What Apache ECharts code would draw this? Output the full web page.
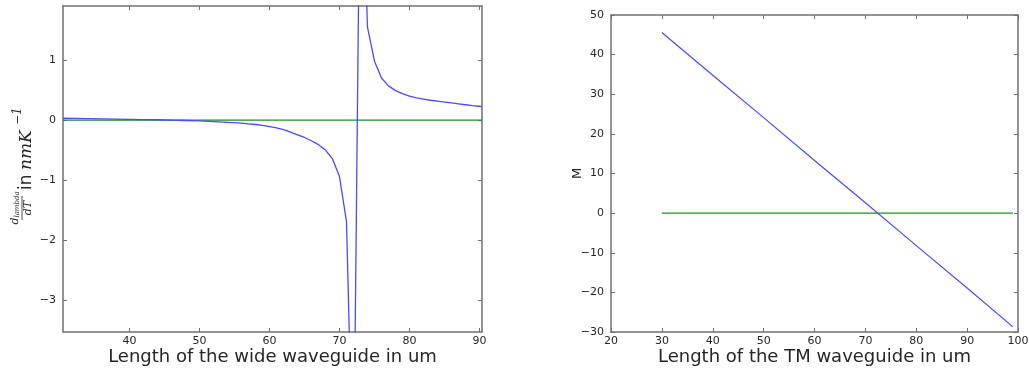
<!DOCTYPE html>
<html>
<head>
<meta charset="utf-8">
<script src="https://cdn.jsdelivr.net/npm/echarts@6/dist/echarts.min.js"></script>
<style>
html,body{margin:0;padding:0;background:#fff;}
#chart{width:1029px;height:371px;}
</style>
</head>
<body>
<div id="chart"></div>
<script>
// ---- data ----
const leftX = [30.5,32,34,36,38,40,42,44,46,48,50,52,54,56,57,58,59,60,61,62,63,64,65,66,67,68,69,70,71,72,73,74,75,76,77,78,79,80,81,82,83,84,85,86,87,88,89,90,90.36];
const leftY = [0.03,0.028,0.025,0.021,0.017,0.013,0.009,0.005,0.0,-0.007,-0.015,-0.025,-0.037,-0.052,-0.062,-0.074,-0.09,-0.108,-0.13,-0.16,-0.2,-0.245,-0.29,-0.345,-0.41,-0.5,-0.645,-0.94,-1.69,-6.3,5.2,1.55,0.98,0.7,0.57,0.49,0.44,0.40,0.37,0.35,0.33,0.315,0.30,0.285,0.27,0.255,0.24,0.23,0.225];
const leftZeroX = [30.5, 90.36];
const leftZeroY = [0, 0];
const leftXTicks = [40,50,60,70,80,90];
const leftYTicks = [-3,-2,-1,0,1];

const rightX = [30,40,50,60,70,80,90,99];
const rightY = [45.6,34.8,24.1,13.3,2.6,-8.2,-18.9,-28.7];
const rightZeroX = [30, 99];
const rightZeroY = [0, 0];

const leftXLabel = 'Length of the wide waveguide in um';
const rightXLabel = 'Length of the TM waveguide in um';
const rightYLabel = 'M';

// ---- helpers ----
const pairs = (xs, ys) => xs.map((x, i) => [x, ys[i]]);
const fmt = v => String(v).replace('-', '\u2212');
const FONT = 'DejaVu Sans';
const AX = '#707070';
const TXT = '#262626';

function baseAxis(extra) {
  return Object.assign({
    type: 'value',
    nameMoveOverlap: false,
    axisLine: { show: true, onZero: false, lineStyle: { color: AX, width: 1.5 } },
    axisTick: { show: true, inside: true, length: 4, lineStyle: { color: AX, width: 1 } },
    axisLabel: { show: true, color: TXT, fontFamily: FONT, fontSize: 11, formatter: fmt },
    splitLine: { show: false }
  }, extra);
}
function mirror(axis, pos) {
  const a = JSON.parse(JSON.stringify(axis));
  a.position = pos;
  a.axisLabel = { show: false };
  a.name = '';
  return a;
}

const lx = baseAxis({ gridIndex: 0, min: 30.5, max: 90.36, position: 'bottom',
  axisTick: { show: true, inside: true, length: 4, lineStyle: { color: AX }, customValues: leftXTicks },
  name: leftXLabel, nameLocation: 'middle', nameGap: 16,
  nameTextStyle: { fontFamily: FONT, fontSize: 18, color: TXT } });
lx.axisLabel.customValues = leftXTicks; lx.axisLabel.margin = 4;
const ly = baseAxis({ gridIndex: 0, min: -3.53, max: 1.9, position: 'left',
  axisTick: { show: true, inside: true, length: 4, lineStyle: { color: AX }, customValues: leftYTicks } });
ly.axisLabel.customValues = leftYTicks; ly.axisLabel.margin = 7;

const rx = baseAxis({ gridIndex: 1, min: 20, max: 100, interval: 10, position: 'bottom',
  name: rightXLabel, nameLocation: 'middle', nameGap: 16,
  nameTextStyle: { fontFamily: FONT, fontSize: 18, color: TXT } });
rx.axisLabel.margin = 4;
const ry = baseAxis({ gridIndex: 1, min: -30, max: 50, interval: 10, position: 'left',
  name: rightYLabel, nameLocation: 'middle', nameGap: 27,
  nameTextStyle: { fontFamily: FONT, fontSize: 13, color: TXT } });
ry.axisLabel.margin = 7;

const lx2 = mirror(lx, 'top');
const ly2 = mirror(ly, 'right');
const rx2 = mirror(rx, 'top');
const ry2 = mirror(ry, 'right');

const chart = echarts.init(document.getElementById('chart'), null, { renderer: 'canvas' });
chart.setOption({
  animation: false,
  backgroundColor: '#fff',
  grid: [
    { left: 63, top: 6, width: 419, height: 326, containLabel: false, outerBoundsMode: 'none' },
    { left: 611, top: 15, width: 407, height: 317, containLabel: false, outerBoundsMode: 'none' }
  ],
  xAxis: [lx, rx, Object.assign(lx2, { gridIndex: 0 }), Object.assign(rx2, { gridIndex: 1 })],
  yAxis: [ly, ry, Object.assign(ly2, { gridIndex: 0 }), Object.assign(ry2, { gridIndex: 1 })],
  series: [
    { type: 'line', xAxisIndex: 0, yAxisIndex: 0, data: pairs(leftX, leftY), showSymbol: false, symbol: 'none',
      clip: true, lineStyle: { color: '#4a4aff', width: 1.3 }, z: 3 },
    { type: 'line', xAxisIndex: 0, yAxisIndex: 0, data: pairs(leftZeroX, leftZeroY), showSymbol: false, symbol: 'none',
      lineStyle: { color: '#1f8f1f', width: 1.2 }, z: 2 },
    { type: 'line', xAxisIndex: 1, yAxisIndex: 1, data: pairs(rightX, rightY), showSymbol: false, symbol: 'none',
      lineStyle: { color: '#4a4aff', width: 1.2 }, z: 3 },
    { type: 'line', xAxisIndex: 1, yAxisIndex: 1, data: pairs(rightZeroX, rightZeroY), showSymbol: false, symbol: 'none',
      lineStyle: { color: '#1f8f1f', width: 1.2 }, z: 2 }
  ],
  graphic: [{
    type: 'group', x: 28, y: 165, rotation: Math.PI / 2,
    children: [
      { type: 'text', x: -43, y: -13, style: { text: '{d|d}{s|lambda}', align: 'center', verticalAlign: 'middle',
          rich: { d: { font: 'italic 11px "DejaVu Serif"', fill: TXT }, s: { font: 'italic 7px "DejaVu Serif"', fill: TXT, padding: [5, 0, 0, 0] } } } },
      { type: 'line', shape: { x1: -55, y1: -6, x2: -31, y2: -6 }, style: { stroke: TXT, lineWidth: 0.8 } },
      { type: 'text', x: -43, y: 0, style: { text: 'dT', font: 'italic 11px "DejaVu Serif"', fill: TXT, align: 'center', verticalAlign: 'middle' } },
      { type: 'text', x: -25, y: -1, style: { text: 'in', font: '17px "DejaVu Sans"', fill: TXT, align: 'left', verticalAlign: 'middle' } },
      { type: 'text', x: -5, y: -1, style: { text: 'nmK', font: 'italic 17px "DejaVu Serif"', fill: TXT, align: 'left', verticalAlign: 'middle' } },
      { type: 'text', x: 40, y: -10, style: { text: '\u22121', font: 'italic 12px "DejaVu Serif"', fill: TXT, align: 'left', verticalAlign: 'middle' } }
    ]
  }]
});
</script>
</body>
</html>
